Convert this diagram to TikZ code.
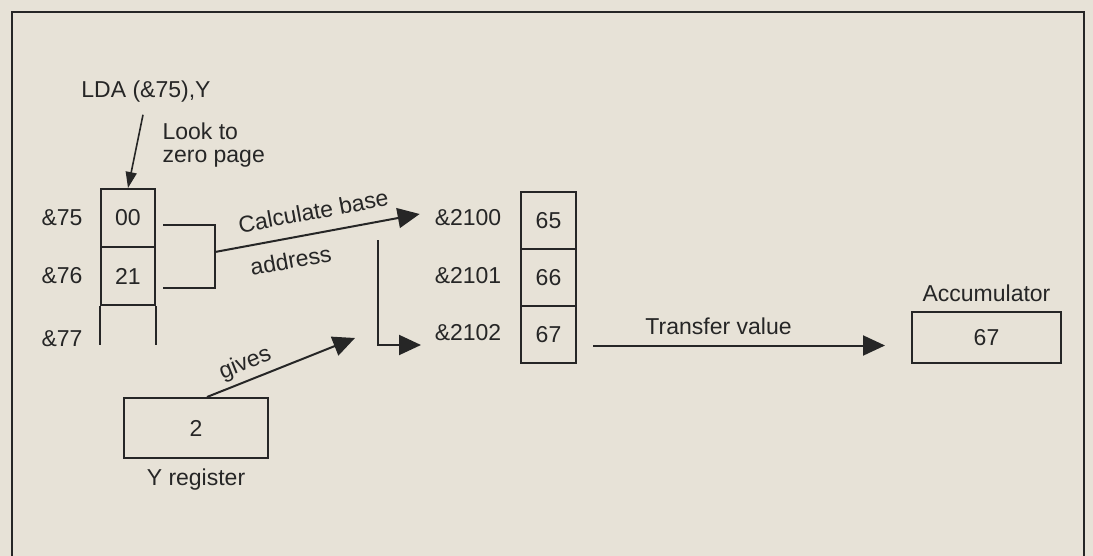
\documentclass[tikz,border=0pt]{standalone}
\usepackage{fontspec}
\setmainfont{Liberation Sans}
\usetikzlibrary{arrows.meta, positioning}
\definecolor{paper}{RGB}{231,226,215}
\definecolor{ink}{RGB}{38,38,38}

\begin{document}
\begin{tikzpicture}[x=0.5pt, y=-0.5pt,
  every node/.style={font=\fontsize{11.5}{11.5}\selectfont, text=ink},
  cell/.style={
    draw=ink, line width=1pt, inner sep=0pt,
    minimum width=27pt, minimum height=29pt
  },
  reg/.style={draw=ink, line width=1pt, inner sep=0pt},
  wire/.style={draw=ink, line width=1pt},
  arr/.style={draw=ink, line width=1pt, -{Triangle[length=11pt,width=10pt]}}
]
\fill[paper] (0,0) rectangle (1093,556);
\useasboundingbox (0,0) rectangle (1093,556);
\draw[ink, line width=1.2pt] (12,556) -- (12,12) -- (1084,12) -- (1084,556);

% zero page
\node (lda) at (146,92) {LDA (\&75),Y};
\node[anchor=west, align=left] (look) at (155.5,145.5) {Look to\\zero page};
\node[cell] (m75) at (128,218) {00};
\node[cell] (m76) at (128,276) {21};
\draw[wire] (m76.south west) -- ++(0,39);
\draw[wire] (m76.south east) -- ++(0,39);
\node (l75) at (62,218) {\&75};
\node (l76) at (62,276) {\&76};
\node (l77) at (62,339) {\&77};
\draw[ink, line width=0.8pt, -{Triangle[length=8pt,width=5.5pt]}]
  ([xshift=-1.5pt,yshift=-2.5pt]lda.south) -- (m75.north);

% base address
\node[cell, minimum width=27.5pt, minimum height=28.5pt] (c65) at (548.5,220.5) {65};
\node[cell, minimum width=27.5pt, minimum height=28.5pt] (c66) at (548.5,277.5) {66};
\node[cell, minimum width=27.5pt, minimum height=28.5pt] (c67) at (548.5,334.5) {67};
\node (a2100) at (468,218) {\&2100};
\node (a2101) at (468,276) {\&2101};
\node (a2102) at (468,333) {\&2102};

\coordinate (brA) at (163,225);
\coordinate (brB) at (163,288);
\coordinate (brC) at (215,252);
\draw[wire] (brA) -| (brC) |- (brB);
\draw[arr] (brC) -- ([xshift=-4pt,yshift=2pt]a2100.west)
  node[sloped, above=3pt, pos=0.5] {Calculate base}
  node[sloped, below=3pt, pos=0.35] {address};

\coordinate (elbow) at (378,240);
\coordinate (elbowtip) at (421,345);
\draw[arr] (elbow) |- (elbowtip);

% Y register
\node[reg, minimum width=72pt, minimum height=30pt] (yreg) at (196,428) {2};
\node[below=1.5pt of yreg] (ylab) {Y register};
\coordinate (givestip) at (355,338);
\draw[arr] ([xshift=5.5pt]yreg.north) -- (givestip)
  node[sloped, above=-1pt, pos=0.3] {gives};

% accumulator
\node[reg, minimum width=74.5pt, minimum height=25.5pt] (acc) at (986.5,337.5) {67};
\node[above=1pt of acc] (acclab) {Accumulator};
\draw[arr] ([shift={(8pt,-5.5pt)}]c67.east) -- ([shift={(-13pt,-4pt)}]acc.west)
  node[above=1.5pt, pos=0.43] {Transfer value};
\end{tikzpicture}
\end{document}
